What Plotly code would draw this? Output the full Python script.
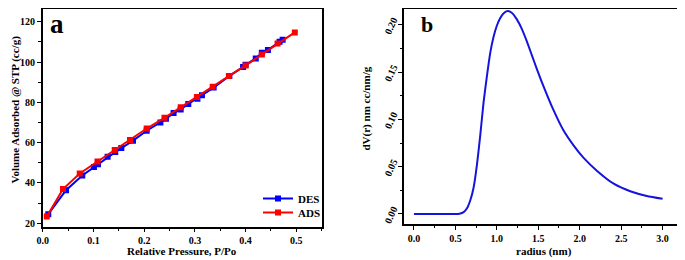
import plotly.graph_objects as go

# ---- Panel a data: isotherm ----
des_x = [0.011, 0.046, 0.078, 0.101, 0.109, 0.128, 0.143, 0.155, 0.178, 0.205, 0.232, 0.243,
         0.258, 0.272, 0.287, 0.305, 0.314, 0.337, 0.368, 0.395, 0.400, 0.420, 0.432, 0.444,
         0.467, 0.473]
des_y = [24.5, 36.4, 43.7, 47.9, 49.3, 53.0, 55.3, 57.3, 61.0, 65.9, 70.0, 71.8,
         74.7, 76.5, 79.2, 81.8, 83.5, 87.3, 93.1, 97.5, 98.6, 101.8, 104.6, 106.0,
         110.0, 111.0]
ads_x = [0.008, 0.040, 0.073, 0.108, 0.142, 0.172, 0.205, 0.240, 0.272, 0.304, 0.335,
         0.367, 0.400, 0.432, 0.463, 0.497]
ads_y = [23.3, 37.0, 44.7, 50.7, 56.3, 61.3, 67.0, 72.3, 77.6, 82.7, 87.7,
         93.0, 98.3, 103.7, 109.2, 114.7]

# ---- Panel b data: pore size distribution ----
rad = [0.0, 0.1, 0.2, 0.3, 0.4, 0.5, 0.55, 0.6, 0.64, 0.68, 0.72, 0.76, 0.80, 0.84, 0.88,
       0.92, 0.96, 1.00, 1.04, 1.08, 1.13, 1.18, 1.24, 1.30, 1.36, 1.42, 1.48, 1.56, 1.68,
       1.80, 1.93, 2.05, 2.21, 2.41, 2.61, 2.81, 3.00]
dv = [0.0, 0.0, 0.0, 0.0, 0.0, 0.0, 0.0003, 0.002, 0.006, 0.0145, 0.028, 0.052, 0.083, 0.118,
      0.1455, 0.170, 0.187, 0.199, 0.207, 0.212, 0.2145, 0.2128, 0.206, 0.196, 0.183, 0.1685,
      0.154, 0.1357, 0.1105, 0.089, 0.072, 0.059, 0.0455, 0.032, 0.024, 0.019, 0.016]

FONT = "Liberation Serif"
OFF = 8                      # page body margin in the browser
W, H = 685 - OFF, 260 - OFF  # figure fills the visible window after the margin

fig = go.Figure()
fig.add_trace(go.Scatter(x=des_x, y=des_y, mode="lines+markers", name="DES",
                         line=dict(color="#0000ff", width=2),
                         marker=dict(symbol="square", size=6, color="#0000ff"),
                         xaxis="x", yaxis="y", legend="legend"))
fig.add_trace(go.Scatter(x=ads_x, y=ads_y, mode="lines+markers", name="ADS",
                         line=dict(color="#ff0000", width=2),
                         marker=dict(symbol="square", size=6, color="#ff0000"),
                         xaxis="x", yaxis="y", legend="legend2"))
fig.add_trace(go.Scatter(x=rad, y=dv, mode="lines", showlegend=False,
                         line=dict(color="#1414dc", width=2, shape="spline", smoothing=0.6),
                         xaxis="x2", yaxis="y2"))

tickfont = dict(family=FONT, size=10, color="black", weight="bold")
common = dict(showline=True, linecolor="black", linewidth=1.5, mirror=True,
              ticks="outside", ticklen=4, tickwidth=1.2, tickcolor="black",
              showgrid=False, zeroline=False, tickfont=tickfont, automargin=False)

# convert screen pixel positions (as in the reference) to paper fractions
def px_x(p):
    return (p - OFF) / W

def px_y(p):
    return 1 - (p - OFF) / H

legfont = dict(family=FONT, size=11, color="black", weight="bold")
leg_common = dict(xanchor="left", yanchor="top", bgcolor="rgba(0,0,0,0)",
                  font=legfont, itemwidth=30)

fig.update_layout(
    width=W, height=H,
    margin=dict(l=0, r=0, t=0, b=0),
    paper_bgcolor="white", plot_bgcolor="white",
    showlegend=True,
    legend=dict(x=px_x(258), y=px_y(184), **leg_common),
    legend2=dict(x=px_x(258), y=px_y(198), **leg_common),
    xaxis=dict(domain=[px_x(42.7), px_x(321.7)], range=[0, 0.55], dtick=0.1, tickformat=".1f",
               minor=dict(dtick=0.05, ticks="outside", ticklen=2.5, tickcolor="black"),
               anchor="y", **common),
    yaxis=dict(domain=[px_y(226.7), px_y(9)], range=[18.3, 126.3], dtick=20,
               minor=dict(dtick=10, ticks="outside", ticklen=2.5, tickcolor="black"),
               anchor="x", **common),
    xaxis2=dict(domain=[px_x(404), px_x(683.3)], range=[-0.12, 3.25], dtick=0.5, tickformat=".1f",
                minor=dict(dtick=0.25, ticks="outside", ticklen=2.5, tickcolor="black"),
                anchor="y2", **common),
    yaxis2=dict(domain=[px_y(224), px_y(9)], range=[-0.0106, 0.2167], dtick=0.05, tickformat=".2f",
                tickangle=-65, ticklabelshift=-6, ticklabelstandoff=3,
                minor=dict(dtick=0.025, ticks="outside", ticklen=2.5, tickcolor="black"),
                anchor="x2", **common),
)

titlefont = dict(family=FONT, size=11, color="black", weight="bold")
annos = [
    dict(text="Relative Pressure, P/Po", x=px_x(182), y=px_y(251)),
    dict(text="radius (nm)", x=px_x(544), y=px_y(251)),
    dict(text="Volume Adsorbed @ STP (cc/g)", x=px_x(14.5), y=px_y(110), textangle=-90),
    dict(text="dV(r) nm cc/nm/g", x=px_x(366), y=px_y(108.5), textangle=-90),
]
for a in annos:
    fig.add_annotation(xref="paper", yref="paper", showarrow=False, font=titlefont,
                       xanchor="center", yanchor="middle", **a)

fig.add_annotation(xref="paper", yref="paper", showarrow=False, text="a",
                   x=px_x(57.5), y=px_y(24), xanchor="center", yanchor="middle",
                   font=dict(family=FONT, size=27, color="black", weight="bold"))
fig.add_annotation(xref="paper", yref="paper", showarrow=False, text="b",
                   x=px_x(427), y=px_y(25), xanchor="center", yanchor="middle",
                   font=dict(family=FONT, size=22, color="black", weight="bold"))

fig.write_html("out.html")
